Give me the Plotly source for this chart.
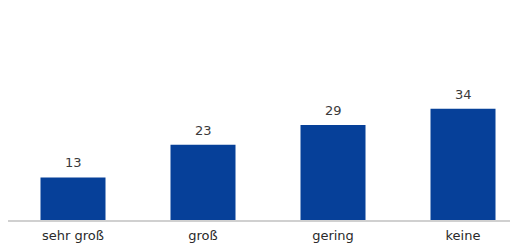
import plotly.graph_objects as go

categories = ["sehr groß", "groß", "gering", "keine"]
values = [13, 23, 29, 34]

bar_color = "#064099"
text_color = "#3a3a3a"

fig = go.Figure()
fig.add_trace(go.Bar(
    x=list(range(len(categories))),
    y=values,
    marker=dict(color=bar_color, line=dict(width=0)),
    width=0.5,
    hoverinfo="skip",
))

for i, v in enumerate(values):
    fig.add_annotation(
        x=i, y=v, text=str(v), showarrow=False,
        yanchor="bottom", yshift=5,
        font=dict(family="DejaVu Sans", size=13, color=text_color),
    )

fig.update_layout(
    width=510, height=235,
    margin=dict(l=0, r=0, t=0, b=21),
    paper_bgcolor="white", plot_bgcolor="white",
    showlegend=False,
    font=dict(family="DejaVu Sans", size=13, color="#2a2a2a"),
    xaxis=dict(
        range=[-0.5, 3.423],
        tickmode="array",
        tickvals=list(range(len(categories))),
        ticktext=categories,
        showgrid=False, zeroline=False,
        showline=True, linecolor="#d0d0d0", linewidth=2,
        ticks="", ticklabelstandoff=2,
    ),
    yaxis=dict(
        range=[0, 64.8], visible=False, showgrid=False, zeroline=False,
    ),
)

fig.write_html("out.html")
